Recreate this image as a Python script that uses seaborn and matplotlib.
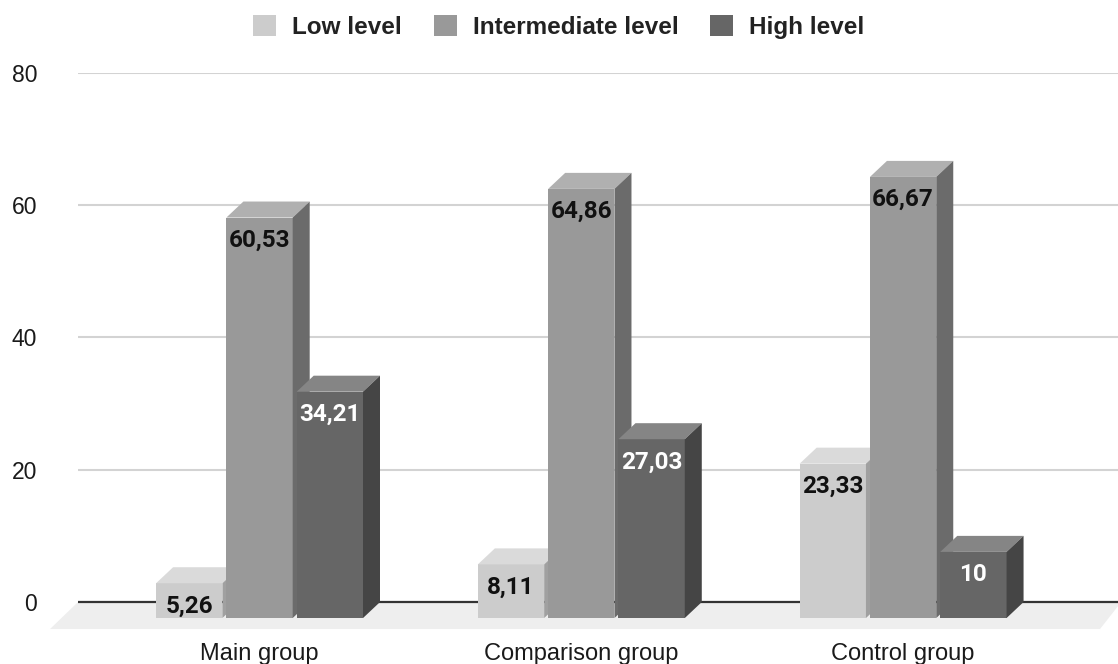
import matplotlib
matplotlib.use("Agg")
import matplotlib.pyplot as plt
import seaborn as sns
import pandas as pd
from matplotlib.patches import Polygon, Patch
from matplotlib.transforms import ScaledTranslation

groups = ["Main group", "Comparison group", "Control group"]
levels = ["Low level", "Intermediate level", "High level"]
low = [5.26, 8.11, 23.33]
intermediate = [60.53, 64.86, 66.67]
high = [34.21, 27.03, 10]

front_colors = ["#cccccc", "#999999", "#666666"]
top_colors = ["#dadada", "#b0b0b0", "#858585"]
side_colors = ["#a0a0a0", "#6b6b6b", "#454545"]
label_colors = ["#111111", "#111111", "#ffffff"]

df = pd.DataFrame({
    "group": groups * 3,
    "level": [lv for lv in levels for _ in groups],
    "value": low + intermediate + high,
})

sns.set_theme(style="white")
plt.rcParams['font.family'] = ['Liberation Sans', 'DejaVu Sans']

W, H = 1118, 664
fig = plt.figure(figsize=(W / 100, H / 100), dpi=100)
ax_left, ax_right, ax_top, ax_bottom = 78, 1118, 72.7, 630.5
ax = fig.add_axes([ax_left / W, (H - ax_bottom) / H,
                   (ax_right - ax_left) / W, (ax_bottom - ax_top) / H])

sns.barplot(data=df, x="group", y="value", hue="level", order=groups,
            hue_order=levels, palette=front_colors, saturation=1,
            width=0.6555, gap=0.057, errorbar=None, legend=False, ax=ax)

xlim = (-0.617, 2.615)
ylim = (-4.3, 80)
ax.set_xlim(*xlim)
ax.set_ylim(*ylim)
px_x = (ax_right - ax_left) / (xlim[1] - xlim[0])
px_y = (ax_bottom - ax_top) / (ylim[1] - ylim[0])
dx = 17 / px_x
dy = 16 / px_y

# floor
fd_x, fd_y = 28 / px_x, 27 / px_y
floor = Polygon([(xlim[0], 0), (xlim[1] + 0.01, 0),
                 (xlim[1] - 18 / px_x, -fd_y), (xlim[0] - fd_x, -fd_y)],
                closed=True, facecolor="#eeeeee", edgecolor="none",
                zorder=1, clip_on=False)
ax.add_patch(floor)
ax.axhline(0, color="#333333", lw=1.6, zorder=2)

# 3d faces for bars
bars = []
for h, cont in enumerate(ax.containers):
    for bar in cont:
        bars.append((bar.get_x(), h, bar))
bars.sort(key=lambda t: t[0])

for i, (x0, h, bar) in enumerate(bars):
    w = bar.get_width()
    v = bar.get_height()
    z = 3 + i * 0.01
    bar.set_x(x0 - dx)
    bar.set_y(-dy)
    bar.set_edgecolor("none")
    bar.set_zorder(z)
    top = Polygon([(x0 - dx, v - dy), (x0 + w - dx, v - dy), (x0 + w, v), (x0, v)],
                  closed=True, facecolor=top_colors[h], edgecolor="none", zorder=z)
    side = Polygon([(x0 + w - dx, -dy), (x0 + w, 0), (x0 + w, v), (x0 + w - dx, v - dy)],
                   closed=True, facecolor=side_colors[h], edgecolor="none", zorder=z)
    ax.add_patch(top)
    ax.add_patch(side)
    txt = f"{v:g}".replace(".", ",")
    ax.annotate(txt, xy=(x0 - dx + w / 2, v - dy), xytext=(0, -21),
                textcoords="offset points", ha="center", va="baseline",
                fontsize=17.5, fontweight="bold", family=["Roboto", "DejaVu Sans"],
                color=label_colors[h], zorder=10)

ax.set_yticks([0, 20, 40, 60, 80])
ax.yaxis.grid(True, color="#d3d3d3", lw=1.5)
ax.xaxis.grid(False)
ax.set_axisbelow(True)
for sp in ax.spines.values():
    sp.set_visible(False)
ax.set_xlabel("")
ax.set_ylabel("")
ax.tick_params(axis="y", length=0, pad=29.5, labelsize=16.5, labelcolor="#1a1a1a")
ax.tick_params(axis="x", length=0, pad=9, labelsize=17, labelcolor="#1a1a1a")
shift = ScaledTranslation(-17 / 100, 0, fig.dpi_scale_trans)
for lab in ax.get_xticklabels():
    lab.set_transform(lab.get_transform() + shift)

handles = [Patch(facecolor=c, edgecolor="none", label=l)
           for c, l in zip(front_colors, levels)]
fig.legend(handles=handles, loc="center", bbox_to_anchor=(0.5, 1 - 27 / H),
           ncol=3, frameon=False,
           prop={"family": "Liberation Sans", "weight": "bold", "size": 17.5},
           labelcolor="#222222", handlelength=0.94, handleheight=0.94,
           handletextpad=0.67, columnspacing=1.3)

fig.savefig("out.png", dpi=100)
